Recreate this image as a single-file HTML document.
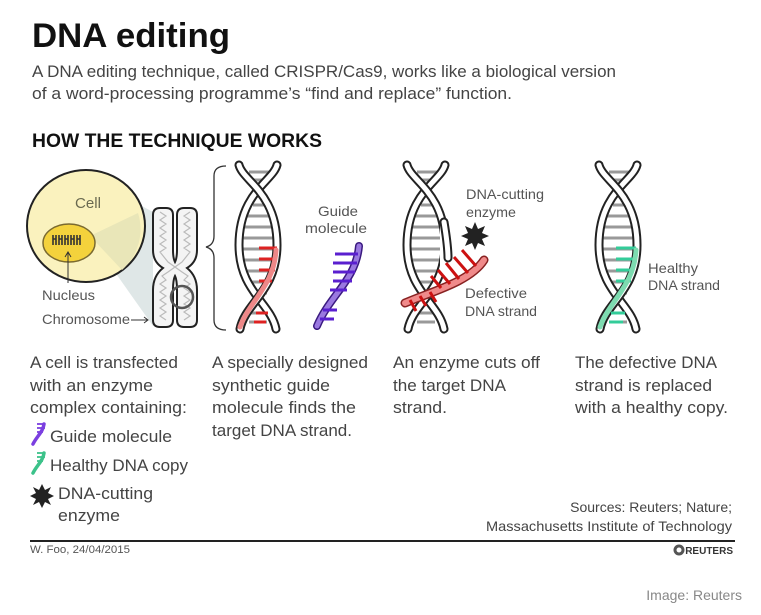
<!DOCTYPE html>
<html><head><meta charset="utf-8"><style>
html,body{margin:0;padding:0;background:#fff;}
svg{display:block;}
text{font-family:"Liberation Sans",sans-serif;}
</style></head><body>
<svg width="761" height="615" viewBox="0 0 761 615" xmlns="http://www.w3.org/2000/svg">
<defs>
<g id="helix">
  <g stroke-width="3">
    <line x1="16" y1="9" x2="36" y2="9" stroke="#999"/>
    <line x1="20" y1="17" x2="36" y2="17" stroke="#999"/>
    <line x1="20" y1="42" x2="36" y2="42" stroke="#999"/>
    <line x1="14" y1="53" x2="42" y2="53" stroke="#999"/>
    <line x1="11" y1="64" x2="42" y2="64" stroke="#999"/>
    <line x1="9" y1="75" x2="42" y2="75" stroke="#999"/>
    <line x1="9" y1="86" x2="42" y2="86" stroke="#999"/>
    <line x1="9" y1="97" x2="42" y2="97" stroke="#999"/>
    <line x1="10" y1="108" x2="40" y2="108" stroke="#999"/>
    <line x1="12" y1="119" x2="38" y2="119" stroke="#999"/>
    <line x1="18" y1="130" x2="34" y2="130" stroke="#999"/>
    <line x1="18" y1="150" x2="32" y2="150" stroke="#999"/>
    <line x1="16" y1="159" x2="34" y2="159" stroke="#999"/>
  </g>
  <path d="M44,2 C40,18 6,30 6,82 C6,128 38,140 43,166" fill="none" stroke="#222" stroke-width="9" stroke-linecap="round"/>
  <path d="M44,2 C40,18 6,30 6,82 C6,128 38,140 43,166" fill="none" stroke="#fff" stroke-width="5" stroke-linecap="round"/>
  <path d="M6,2 C10,18 44,30 44,82 C44,128 12,140 7,166" fill="none" stroke="#222" stroke-width="9" stroke-linecap="round"/>
  <path d="M6,2 C10,18 44,30 44,82 C44,128 12,140 7,166" fill="none" stroke="#fff" stroke-width="5" stroke-linecap="round"/>
</g>
<g id="mini"><path d="M0,0 L0,10 M3,0 L3,10 M0,4 L3,4" stroke="#333" stroke-width="1.6" fill="none"/></g>
</defs>

<text x="32" y="47" font-size="34" font-weight="bold" fill="#111" textLength="198" lengthAdjust="spacingAndGlyphs">DNA editing</text>
<text x="32" y="77" font-size="17" fill="#444" textLength="584" lengthAdjust="spacingAndGlyphs">A DNA editing technique, called CRISPR/Cas9, works like a biological version</text>
<text x="32" y="99" font-size="17" fill="#444" textLength="480" lengthAdjust="spacingAndGlyphs">of a word-processing programme’s “find and replace” function.</text>
<text x="32" y="147" font-size="19" font-weight="bold" fill="#111" textLength="290" lengthAdjust="spacingAndGlyphs">HOW THE TECHNIQUE WORKS</text>

<!-- cell -->
<polygon points="140,205 153,212 153,326 112,268" fill="#dfe7e7"/>
<ellipse cx="86" cy="226" rx="59" ry="56" fill="#faf2be" stroke="#222" stroke-width="2"/>
<path d="M90,236 L138,213 A59,56 0 0 1 122,270 Z" fill="#e9e6b8"/>
<ellipse cx="69" cy="243" rx="26" ry="19" fill="#f4d23c" stroke="#7a6a30" stroke-width="1.5"/>
<use href="#mini" transform="translate(53,235)"/>
<use href="#mini" transform="translate(59,235)"/>
<use href="#mini" transform="translate(65,235)"/>
<use href="#mini" transform="translate(71,235)"/>
<use href="#mini" transform="translate(77,235)"/>
<text x="75" y="208" font-size="15" fill="#6a6a50" textLength="26" lengthAdjust="spacingAndGlyphs">Cell</text>
<line x1="68" y1="252" x2="68" y2="283" stroke="#333" stroke-width="1"/>
<path d="M65,257 L68,252 L71,257" fill="none" stroke="#333"/>
<text x="42" y="300" font-size="14" fill="#555" textLength="53" lengthAdjust="spacingAndGlyphs">Nucleus</text>
<text x="42" y="324" font-size="14" fill="#555" textLength="88" lengthAdjust="spacingAndGlyphs">Chromosome</text>
<line x1="131" y1="320" x2="147" y2="320" stroke="#333"/>
<path d="M144,317 L148,320 L144,323" fill="none" stroke="#333"/>

<!-- chromosome -->
<path d="M160,208 Q153,208 153,215 L153,250 Q153,262 163,268 Q153,276 153,290 L153,320 Q153,327 160,327 L166,327 Q173,327 173,320 L173,290 Q173,280 175,276 Q177,280 177,290 L177,320 Q177,327 184,327 L190,327 Q197,327 197,320 L197,290 Q197,276 187,268 Q197,262 197,250 L197,215 Q197,208 190,208 L184,208 Q177,208 177,215 L177,250 Q177,258 175,262 Q173,258 173,250 L173,215 Q173,208 166,208 Z" fill="#f4f4f4" stroke="#222" stroke-width="2"/>
<path d="M160,212 L166,216 L160,220 L166,224 L160,228 L166,232 L160,236 L166,240 L160,244 L166,248 L160,252 L168,262 L182,272 L188,276 L184,280 L190,284 L184,288 L190,292 L184,296 L190,300 L184,304 L190,308 L184,312 L190,316 L184,320 M190,212 L184,216 L190,220 L184,224 L190,228 L184,232 L190,236 L184,240 L190,244 L184,248 L190,252 L182,262 L168,272 L162,276 L166,280 L160,284 L166,288 L160,292 L166,296 L160,300 L166,304 L160,308 L166,312 L160,316 L166,320" fill="none" stroke="#bbb" stroke-width="1.2"/>
<circle cx="182" cy="297" r="11" fill="none" stroke="#555" stroke-width="2.5"/>

<!-- brace -->
<path d="M226,166 Q214,166 214,176 L214,236 Q214,245 206,247 Q214,249 214,258 L214,320 Q214,330 226,330" fill="none" stroke="#333" stroke-width="1.3"/>

<!-- helix 1 -->
<use href="#helix" transform="translate(233,163)"/>
<g stroke="#d22" stroke-width="3">
 <line x1="259" y1="248" x2="277" y2="248"/><line x1="259" y1="259" x2="277" y2="259"/><line x1="259" y1="270" x2="275" y2="270"/><line x1="259" y1="281" x2="272" y2="281"/><line x1="256" y1="313" x2="268" y2="313"/><line x1="254" y1="322" x2="266" y2="322"/>
</g>
<path d="M276,250 C274,286 250,300 240,327" fill="none" stroke="#e88" stroke-width="5" stroke-linecap="round"/>
<text x="318" y="216" font-size="14" fill="#555" textLength="40" lengthAdjust="spacingAndGlyphs">Guide</text>
<text x="305" y="233" font-size="14" fill="#555" textLength="62" lengthAdjust="spacingAndGlyphs">molecule</text>
<!-- guide -->
<path d="M359,246 C356,280 330,295 317,326" fill="none" stroke="#3a1a80" stroke-width="8" stroke-linecap="round"/>
<path d="M359,246 C356,280 330,295 317,326" fill="none" stroke="#9a78e0" stroke-width="5" stroke-linecap="round"/>
<g stroke="#5a1fcf" stroke-width="3">
 <line x1="335" y1="254" x2="358" y2="254"/><line x1="333" y1="263" x2="357" y2="263"/><line x1="333" y1="272" x2="355" y2="272"/><line x1="333" y1="281" x2="352" y2="281"/><line x1="330" y1="290" x2="347" y2="290"/><line x1="323" y1="310" x2="337" y2="310"/><line x1="320" y1="319" x2="334" y2="319"/>
</g>

<!-- helix 2 -->
<use href="#helix" transform="translate(401,163)"/>
<rect x="440" y="225" width="16" height="50" fill="#fff"/>
<path d="M444,222 C447,240 448,250 448,258" fill="none" stroke="#222" stroke-width="9" stroke-linecap="round"/>
<path d="M444,222 C447,240 448,250 448,258" fill="none" stroke="#fff" stroke-width="5" stroke-linecap="round"/>
<text x="466" y="199" font-size="14" fill="#555" textLength="78" lengthAdjust="spacingAndGlyphs">DNA-cutting</text>
<text x="466" y="217" font-size="14" fill="#555" textLength="50" lengthAdjust="spacingAndGlyphs">enzyme</text>
<polygon points="475,222 478,229 485,226 482,233 489,236 482,239 485,246 478,243 475,250 472,243 465,246 468,239 461,236 468,233 465,226 472,229" fill="#222"/>
<path d="M405,303 C430,292 470,282 484,260" fill="none" stroke="#822" stroke-width="9" stroke-linecap="round"/>
<path d="M405,303 C430,292 470,282 484,260" fill="none" stroke="#f08a8a" stroke-width="6" stroke-linecap="round"/>
<g stroke="#c11" stroke-width="3">
 <line x1="476" y1="266" x2="462" y2="250"/><line x1="468" y1="273" x2="454" y2="257"/><line x1="459" y1="279" x2="446" y2="263"/><line x1="450" y1="284" x2="438" y2="270"/><line x1="441" y1="288" x2="431" y2="276"/><line x1="420" y1="296" x2="426" y2="306"/><line x1="410" y1="300" x2="416" y2="311"/><line x1="430" y1="292" x2="436" y2="302"/>
</g>
<text x="465" y="298" font-size="14" fill="#555" textLength="62" lengthAdjust="spacingAndGlyphs">Defective</text>
<text x="465" y="316" font-size="14" fill="#555" textLength="72" lengthAdjust="spacingAndGlyphs">DNA strand</text>

<!-- helix 3 -->
<use href="#helix" transform="translate(593,163)"/>
<g stroke="#3c9" stroke-width="3">
 <line x1="616" y1="248" x2="636" y2="248"/><line x1="616" y1="259" x2="636" y2="259"/><line x1="616" y1="270" x2="634" y2="270"/><line x1="616" y1="281" x2="631" y2="281"/><line x1="611" y1="313" x2="625" y2="313"/><line x1="609" y1="322" x2="623" y2="322"/>
</g>
<path d="M636,250 C634,286 610,300 600,327" fill="none" stroke="#7ddbb0" stroke-width="5" stroke-linecap="round"/>
<text x="648" y="273" font-size="14" fill="#555" textLength="50" lengthAdjust="spacingAndGlyphs">Healthy</text>
<text x="648" y="290" font-size="14" fill="#555" textLength="72" lengthAdjust="spacingAndGlyphs">DNA strand</text>

<!-- descriptions -->
<g font-size="17" fill="#444">
<text x="30" y="368" textLength="148" lengthAdjust="spacingAndGlyphs">A cell is transfected</text>
<text x="30" y="391" textLength="123" lengthAdjust="spacingAndGlyphs">with an enzyme</text>
<text x="30" y="413" textLength="157" lengthAdjust="spacingAndGlyphs">complex containing:</text>
<text x="50" y="442" textLength="122" lengthAdjust="spacingAndGlyphs">Guide molecule</text>
<text x="50" y="471" textLength="138" lengthAdjust="spacingAndGlyphs">Healthy DNA copy</text>
<text x="58" y="499" textLength="95" lengthAdjust="spacingAndGlyphs">DNA-cutting</text>
<text x="58" y="521" textLength="62" lengthAdjust="spacingAndGlyphs">enzyme</text>
<text x="212" y="368" textLength="156" lengthAdjust="spacingAndGlyphs">A specially designed</text>
<text x="212" y="391" textLength="118" lengthAdjust="spacingAndGlyphs">synthetic guide</text>
<text x="212" y="413" textLength="144" lengthAdjust="spacingAndGlyphs">molecule finds the</text>
<text x="212" y="436" textLength="140" lengthAdjust="spacingAndGlyphs">target DNA strand.</text>
<text x="393" y="368" textLength="147" lengthAdjust="spacingAndGlyphs">An enzyme cuts off</text>
<text x="393" y="391" textLength="113" lengthAdjust="spacingAndGlyphs">the target DNA</text>
<text x="393" y="413" textLength="54" lengthAdjust="spacingAndGlyphs">strand.</text>
<text x="575" y="368" textLength="142" lengthAdjust="spacingAndGlyphs">The defective DNA</text>
<text x="575" y="391" textLength="137" lengthAdjust="spacingAndGlyphs">strand is replaced</text>
<text x="575" y="413" textLength="153" lengthAdjust="spacingAndGlyphs">with a healthy copy.</text>
</g>
<!-- legend icons -->
<path d="M44,424 C43,432 37,436 33,444" fill="none" stroke="#7b3fe0" stroke-width="3.5" stroke-linecap="round"/>
<g stroke="#7b3fe0" stroke-width="1.8"><line x1="37" y1="424" x2="45" y2="424"/><line x1="37" y1="428" x2="45" y2="428"/><line x1="37" y1="432" x2="43" y2="432"/></g>
<path d="M44,453 C43,461 37,465 33,473" fill="none" stroke="#3cc28a" stroke-width="3.5" stroke-linecap="round"/>
<g stroke="#3cc28a" stroke-width="1.8"><line x1="37" y1="453" x2="45" y2="453"/><line x1="37" y1="457" x2="45" y2="457"/><line x1="37" y1="461" x2="43" y2="461"/></g>
<polygon points="42,484 45,490 51,487 48,493 54,496 48,499 51,505 45,502 42,508 39,502 33,505 36,499 30,496 36,493 33,487 39,490" fill="#222"/>

<g font-size="14" fill="#444" text-anchor="end">
<text x="732" y="512">Sources: Reuters; Nature;</text>
<text x="732" y="531" textLength="246" lengthAdjust="spacingAndGlyphs">Massachusetts Institute of Technology</text>
</g>
<line x1="30" y1="541" x2="735" y2="541" stroke="#222" stroke-width="2"/>
<text x="30" y="553" font-size="11" fill="#555" textLength="100" lengthAdjust="spacingAndGlyphs">W. Foo, 24/04/2015</text>
<circle cx="679" cy="550" r="5.5" fill="#555"/>
<circle cx="679" cy="550" r="2.5" fill="#fff"/>
<text x="733" y="554" font-size="10" font-weight="bold" fill="#333" text-anchor="end">REUTERS</text>
<text x="742" y="600" font-size="14" fill="#888" text-anchor="end">Image: Reuters</text>
</svg>
</body></html>
